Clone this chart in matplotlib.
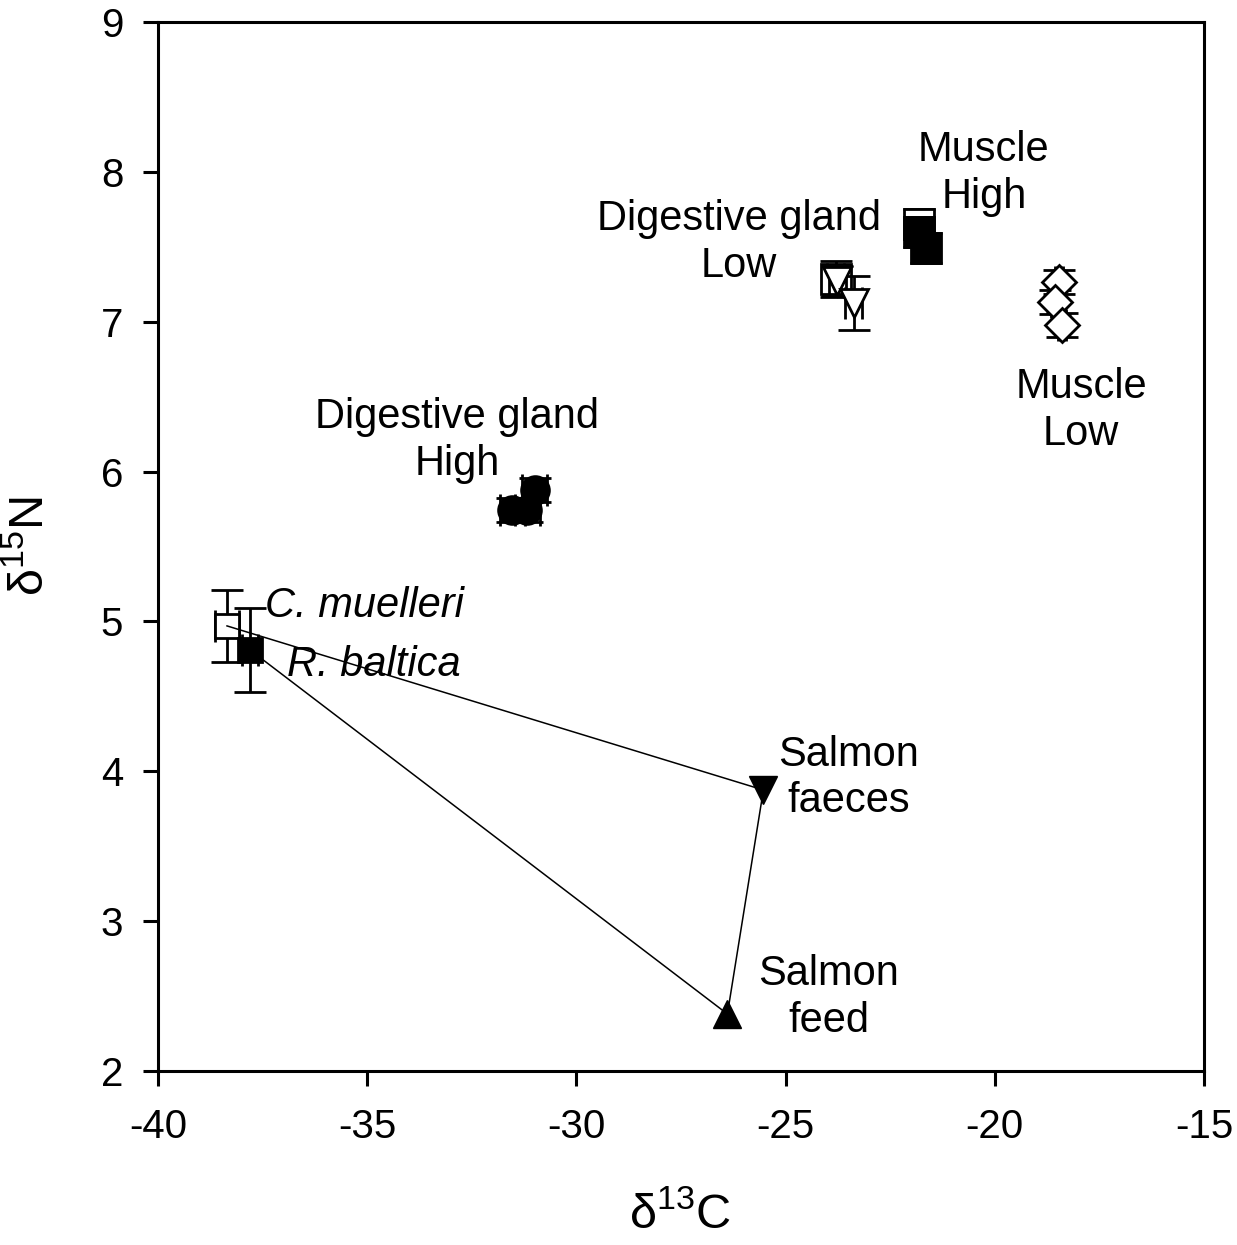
import matplotlib
matplotlib.use("Agg")
import matplotlib.pyplot as plt

plt.rcParams['font.family'] = ['Liberation Sans', 'DejaVu Sans']
plt.rcParams['mathtext.fontset'] = 'custom'
plt.rcParams['mathtext.rm'] = 'Liberation Sans'
plt.rcParams['axes.unicode_minus'] = False

# sources
cm_x, cm_y, cm_xerr, cm_yerr = [-38.35], [4.97], [0.28], [0.24]      # C. muelleri
rb_x, rb_y, rb_xerr, rb_yerr = [-37.8], [4.81], [0.2], [0.28]        # R. baltica
faeces_x, faeces_y = [-25.53], [3.875]
feed_x, feed_y = [-26.39], [2.38]

# digestive gland, high
dgh_x = [-31.53, -31.17, -31.0]
dgh_y = [5.745, 5.745, 5.88]
dgh_xerr = [0.3, 0.3, 0.3]
dgh_yerr = [0.08, 0.08, 0.08]

# digestive gland, low
dgl_sq_x, dgl_sq_y = [-23.8], [7.285]
dgl_sq_xerr, dgl_sq_yerr = [0.2], [0.12]
dgl_tri_x = [-23.76, -23.37]
dgl_tri_y = [7.27, 7.125]
dgl_tri_xerr = [0.2, 0.2]
dgl_tri_yerr = [0.1, 0.18]

# muscle, high
mh_open_x, mh_open_y = [-21.82], [7.65]
mh_x = [-21.82, -21.65]
mh_y = [7.6, 7.49]
mh_xerr = [0.15, 0.15]
mh_yerr = [0.1, 0.1]

# muscle, low
ml_x = [-18.47, -18.56, -18.40]
ml_y = [7.265, 7.13, 6.98]
ml_xerr = [0.1, 0.1, 0.1]
ml_yerr = [0.08, 0.08, 0.08]

xticks = [-40, -35, -30, -25, -20, -15]
yticks = [2, 3, 4, 5, 6, 7, 8, 9]

fig = plt.figure(figsize=(12.37, 12.45), dpi=100)
ax = fig.add_axes([0.1277, 0.1398, 0.8456, 0.8425])

eb = dict(ecolor='black', elinewidth=2, capsize=11.5, capthick=2, linestyle='none',
          markeredgecolor='black', markeredgewidth=2)

def group(x, y, xe, ye, marker, face, size, z):
    ax.errorbar(x, y, xerr=xe, yerr=ye, marker=marker, markerfacecolor=face,
                markersize=size, zorder=z, **eb)

# mixing polygon
ax.plot([cm_x[0], faeces_x[0], feed_x[0], rb_x[0]],
        [cm_y[0], faeces_y[0], feed_y[0], rb_y[0]],
        color='black', linewidth=1.1, zorder=5)

group(cm_x, cm_y, cm_xerr, cm_yerr, 's', 'white', 17, 3)
group(rb_x, rb_y, rb_xerr, rb_yerr, 's', 'black', 17, 4)
ax.plot(faeces_x, faeces_y, 'v', color='black', markersize=20, zorder=4)
ax.plot(feed_x, feed_y, '^', color='black', markersize=20, zorder=4)

group(dgh_x, dgh_y, dgh_xerr, dgh_yerr, 'o', 'black', 20, 3)
group(dgl_sq_x, dgl_sq_y, dgl_sq_xerr, dgl_sq_yerr, 's', 'white', 22, 3)
group(dgl_tri_x, dgl_tri_y, dgl_tri_xerr, dgl_tri_yerr, 'v', 'white', 20, 4)
group(mh_open_x, mh_open_y, [0.15], [0.1], 's', 'white', 21, 3)
group(mh_x, mh_y, mh_xerr, mh_yerr, 's', 'black', 21, 4)
group(ml_x, ml_y, ml_xerr, ml_yerr, 'D', 'white', 17, 3)

fs = 30
lab = dict(fontsize=fs, ha='center', va='center', linespacing=1.22)
ax.text(-20.26, 7.99, 'Muscle\nHigh', **lab)
ax.text(-26.12, 7.53, 'Digestive gland\nLow', **lab)
ax.text(-17.94, 6.41, 'Muscle\nLow', **lab)
ax.text(-32.85, 6.21, 'Digestive gland\nHigh', **lab)
ax.text(-23.49, 3.955, 'Salmon\nfaeces', **lab)
ax.text(-23.97, 2.49, 'Salmon\nfeed', **lab)
ax.text(-37.44, 5.10, 'C. muelleri', fontsize=fs, style='italic', ha='left', va='center')
ax.text(-36.91, 4.71, 'R. baltica', fontsize=fs, style='italic', ha='left', va='center')

ax.set_xlim(-40, -15)
ax.set_ylim(2, 9)
ax.set_xticks(xticks)
ax.set_yticks(yticks)
ax.tick_params(direction='out', length=11, width=2.2, labelsize=29)
ax.tick_params(axis='x', pad=16)
ax.tick_params(axis='y', pad=14)
for s in ax.spines.values():
    s.set_linewidth(2.2)

ax.set_xlabel(r'δ$^{13}$C', fontsize=35)
ax.set_ylabel(r'δ$^{15}$N', fontsize=35)
ax.xaxis.set_label_coords(0.499, -0.116)
ax.yaxis.set_label_coords(-0.1, 0.5)

fig.savefig('out.png', dpi=100)
